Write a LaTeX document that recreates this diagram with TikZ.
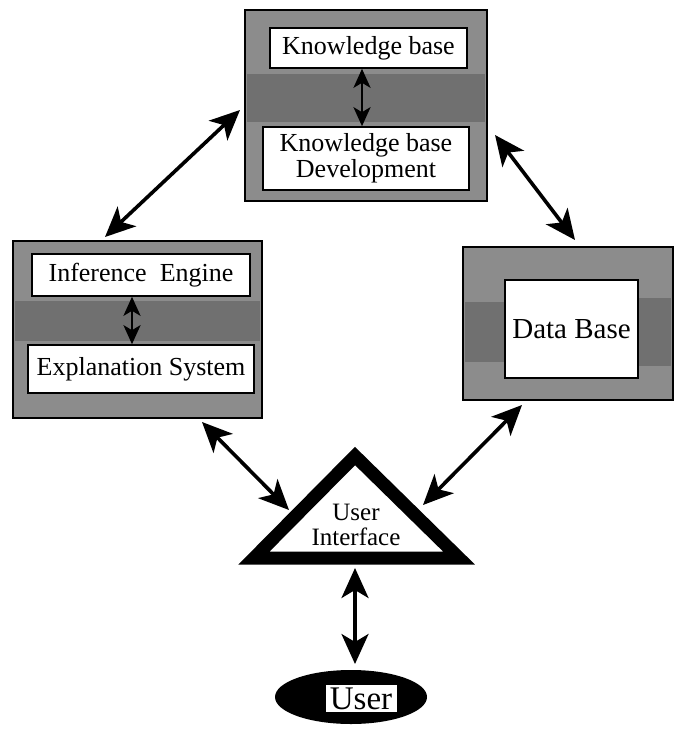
\documentclass[tikz,border=0pt]{standalone}
\usepackage{fontspec}
\setmainfont{Liberation Serif}
\usetikzlibrary{arrows.meta,positioning}
\begin{document}
\begin{tikzpicture}[x=1pt,y=-1pt,
  outerbox/.style={draw=black,line width=2pt,fill=black!45},
  innerbox/.style={draw=black,line width=1.6pt,fill=white,inner sep=0pt,align=center},
  bigarrow/.style={line width=3.6pt,{Stealth[length=30pt,width=27pt,inset=8pt]}-{Stealth[length=30pt,width=27pt,inset=8pt]}},
  smallarrow/.style={line width=2.6pt,{Stealth[length=19pt,width=17pt,inset=5pt]}-{Stealth[length=19pt,width=17pt,inset=5pt]}},
  txt/.style={font=\fontsize{26}{27}\selectfont}
]
\useasboundingbox (0,0) rectangle (675,738);

% ---- top box: knowledge base
\node[outerbox,minimum width=242pt,minimum height=191pt,inner sep=0pt] (kbouter) at (366,105.5) {};
\fill[black!56] (247,74) rectangle (485,122);
\node[innerbox,txt,minimum width=197pt,minimum height=40pt] (kb) at (368.5,48) {Knowledge base};
\node[innerbox,txt,minimum width=206pt,minimum height=63pt] (kbd) at (366,158.5) {Knowledge base\\[-1pt]Development};
\draw[smallarrow] (kb.south -| 362,0) -- (kbd.north -| 362,0);

% ---- left box: inference engine
\node[outerbox,minimum width=249pt,minimum height=177pt,inner sep=0pt] (ieouter) at (137.5,329.5) {};
\fill[black!56] (15,301) rectangle (260,341);
\node[innerbox,txt,minimum width=218pt,minimum height=42pt] (ie) at (141,275) {Inference\ \ Engine};
\node[innerbox,txt,minimum width=226pt,minimum height=48pt] (es) at (141,369) {Explanation System};
\draw[smallarrow] (ie.south -| 132,0) -- (es.north -| 132,0);

% ---- right box: data base
\node[outerbox,minimum width=210pt,minimum height=153pt,inner sep=0pt] (dbouter) at (568,323.5) {};
\fill[black!56] (465,302) rectangle (505,362);
\fill[black!56] (638,298) rectangle (671,366);
\node[innerbox,font=\fontsize{29}{30}\selectfont,minimum width=133pt,minimum height=98pt] (db) at (571.5,329) {Data Base};

% ---- triangle: user interface
\draw[line width=13pt,line join=miter,fill=white] (355,456) -- (459,558) -- (254,558) -- cycle;
\node[font=\fontsize{25}{25}\selectfont,align=center,inner sep=0pt] (ui) at (356,525) {User\\Interface};

% ---- user ellipse
\fill[black] (351,697) ellipse [x radius=76, y radius=27];
\node[fill=white,draw=black,line width=0.6pt,inner sep=0pt,minimum width=72pt,minimum height=28pt,font=\fontsize{33}{33}\selectfont] (user) at (361,698.5) {User};

% ---- connector end points
\coordinate (a1) at (105,237);
\coordinate (a2) at (240,110);
\coordinate (b1) at (495,135);
\coordinate (b2) at (575,240);
\coordinate (c1) at (202,422);
\coordinate (c2) at (289,510);
\coordinate (d1) at (522,405);
\coordinate (d2) at (423,505);
\coordinate (e1) at (355,568);
\coordinate (e2) at (355,664);

\draw[bigarrow] (a1) -- (a2);
\draw[bigarrow] (b1) -- (b2);
\draw[bigarrow] (c1) -- (c2);
\draw[bigarrow] (d1) -- (d2);
\draw[bigarrow] (e1) -- (e2);
\end{tikzpicture}
\end{document}
